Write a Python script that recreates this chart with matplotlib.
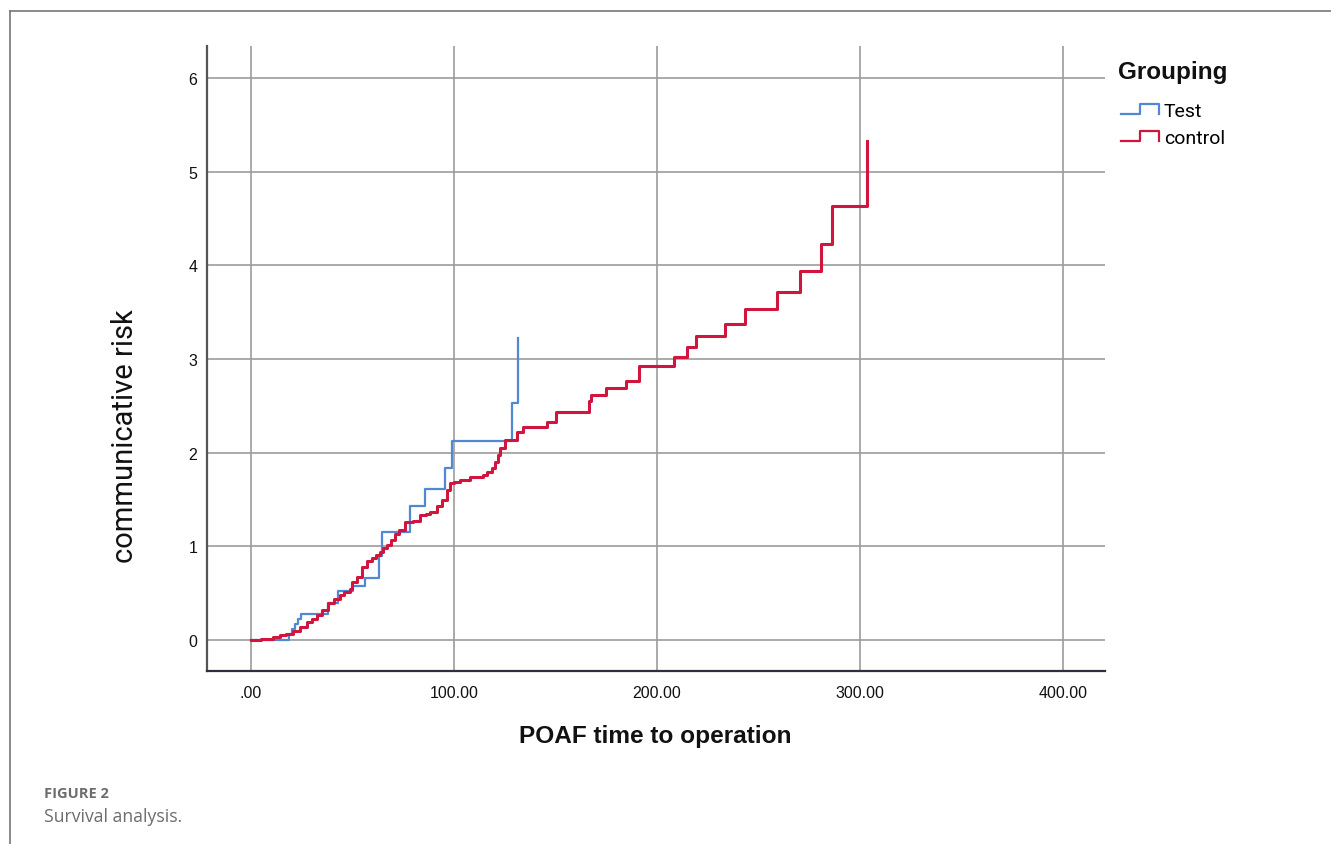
import numpy as np
import matplotlib
matplotlib.use("Agg")
import matplotlib.pyplot as plt
from matplotlib.lines import Line2D
from matplotlib.legend_handler import HandlerBase

# cumulative hazard, Test group
test_t = [0, 18.9, 20.2, 21.5, 23, 24.5, 38.1, 42.6, 50.4, 56.2, 63.2, 64.4,
          78.5, 85.7, 95.6, 98.9, 128.4, 131.4]
test_h = [0, 0.06, 0.12, 0.17, 0.23, 0.28, 0.40, 0.52, 0.58, 0.66, 0.90, 1.15,
          1.43, 1.61, 1.84, 2.12, 2.53, 3.22]

# cumulative hazard, control group
ctrl_t = [0, 5, 11, 14.3, 17, 20.8, 24, 27.4, 30, 32.4, 35, 38.1, 41, 43.8, 46,
          48.8, 49.6, 52, 54.5, 57, 59.5, 61.5, 63.5, 65, 66.8, 69, 71, 73, 75.9,
          80, 83.3, 86, 88.2, 91.5, 94, 96.4, 98, 100, 103, 108, 114.4, 116,
          118.6, 120, 121.8, 122.7, 125, 131, 134, 145.7, 150, 166.6, 167.5, 175,
          184.7, 191, 208.4, 215, 219, 233.6, 243.3, 259, 270.4, 281, 286, 303.3]
ctrl_h = [0, 0.01, 0.03, 0.05, 0.07, 0.10, 0.14, 0.19, 0.23, 0.27, 0.32, 0.40,
          0.44, 0.48, 0.51, 0.54, 0.62, 0.67, 0.78, 0.84, 0.88, 0.91, 0.94, 0.98,
          1.02, 1.07, 1.13, 1.18, 1.26, 1.27, 1.33, 1.35, 1.37, 1.43, 1.50, 1.60,
          1.68, 1.69, 1.71, 1.74, 1.76, 1.79, 1.84, 1.90, 1.97, 2.05, 2.14, 2.22,
          2.27, 2.33, 2.43, 2.55, 2.62, 2.69, 2.76, 2.93, 3.02, 3.13, 3.24, 3.37,
          3.53, 3.72, 3.94, 4.23, 4.63, 5.33]

x_ticks = [0, 100, 200, 300, 400]
x_tick_labels = [".00", "100.00", "200.00", "300.00", "400.00"]
y_ticks = [0, 1, 2, 3, 4, 5, 6]
group_labels = ["Test", "control"]


class StepHandler(HandlerBase):
    # legend glyph drawn as a small step like the SPSS output
    def create_artists(self, legend, orig_handle, xdescent, ydescent,
                       width, height, fontsize, trans):
        xs = np.array([0, 0.5, 0.5, 1.0, 1.0]) * width - xdescent
        ys = np.array([0.15, 0.15, 0.9, 0.9, 0.15]) * height - ydescent
        ln = Line2D(xs, ys, color=orig_handle.get_color(), lw=1.6)
        ln.set_transform(trans)
        return [ln]


fig = plt.figure(figsize=(13.31, 8.45), dpi=100)
ax = fig.add_axes([207 / 1331, 1 - 672 / 845, 898 / 1331, 625 / 845])

ax.set_xlim(-21.7, 420.7)
ax.set_ylim(-0.33, 6.34)

ax.grid(True, color="#9c9c9c", lw=1.2)
ax.set_axisbelow(True)

l1, = ax.step(test_t, test_h, where="post", color="#5088d2", lw=1.6, label=group_labels[0])
l2, = ax.step(ctrl_t, ctrl_h, where="post", color="#d0163e", lw=2.2, label=group_labels[1])

ax.set_xticks(x_ticks)
ax.set_xticklabels(x_tick_labels)
ax.set_yticks(y_ticks)
ax.tick_params(axis="both", length=0, labelsize=11.5, colors="#111111")
ax.tick_params(axis="x", pad=10)
ax.tick_params(axis="y", pad=7)
for lab in ax.get_xticklabels() + ax.get_yticklabels():
    lab.set_family("Liberation Sans")

for s in ["top", "right"]:
    ax.spines[s].set_visible(False)
ax.spines["left"].set_color("#555555")
ax.spines["left"].set_linewidth(1.6)
ax.spines["bottom"].set_color("#2e2e3e")
ax.spines["bottom"].set_linewidth(1.6)

fig.text(125 / 1331, 1 - 436 / 845, "communicative risk", rotation=90,
         ha="center", va="center", fontsize=21, family="Roboto", color="#111111")
fig.text(655 / 1331, 1 - 737 / 845, "POAF time to operation",
         ha="center", va="center", fontsize=17.6, fontweight="bold",
         family="Liberation Sans", color="#111111")

# legend title written separately so the gap matches the original
fig.text(1118 / 1331, 1 - 72 / 845, "Grouping", ha="left", va="center",
         fontsize=17.5, fontweight="bold", family="Liberation Sans", color="#111111")
leg = fig.legend(handles=[l1, l2], labels=group_labels,
                 loc="upper left", bbox_to_anchor=(1121 / 1331, 1 - 103 / 845),
                 frameon=False, handler_map={Line2D: StepHandler()},
                 borderpad=0, borderaxespad=0,
                 handlelength=1.95, handletextpad=0.25, labelspacing=0.45,
                 prop={"family": "Roboto", "size": 14})

# page frame and caption
fig.add_artist(Line2D([10 / 1331, 1], [1 - 12 / 845, 1 - 12 / 845],
                      transform=fig.transFigure, color="#777777", lw=1.2))
fig.add_artist(Line2D([10 / 1331, 10 / 1331], [0, 1 - 12 / 845],
                      transform=fig.transFigure, color="#777777", lw=1.2))
fig.text(44 / 1331, 1 - 794 / 845, "FIGURE 2", ha="left", va="center",
         fontsize=10.5, fontweight="bold", family="Open Sans", color="#6d6d6d")
fig.text(44 / 1331, 1 - 817 / 845, "Survival analysis.", ha="left", va="center",
         fontsize=12.7, family="Open Sans", color="#6d6d6d")

fig.savefig("out.png", dpi=100)
